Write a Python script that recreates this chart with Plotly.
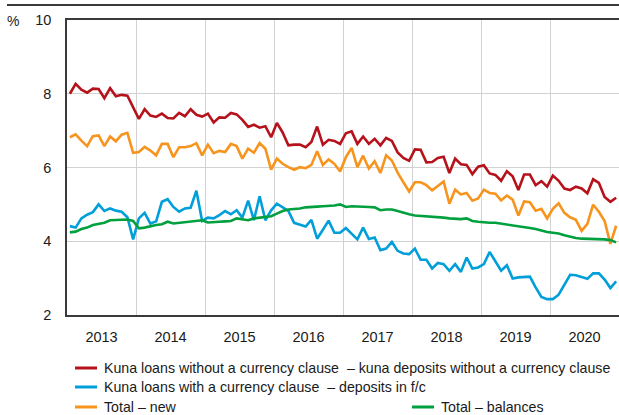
import plotly.graph_objects as go

# Monthly observations, January 2013 - December 2020 (96 months)
start_year = 2013
n_months = 96

kuna_no_clause = [
    8.00, 8.27, 8.11, 8.03, 8.14, 8.13, 7.88, 8.15, 7.93, 7.97, 7.95, 7.62,
    7.32, 7.58, 7.41, 7.37, 7.46, 7.34, 7.33, 7.48, 7.39, 7.58, 7.43, 7.38,
    7.46, 7.22, 7.36, 7.35, 7.48, 7.44, 7.29, 7.10, 7.16, 7.08, 7.12, 6.82,
    7.21, 6.95, 6.60, 6.62, 6.62, 6.55, 6.69, 7.11, 6.62, 6.75, 6.72, 6.64,
    6.93, 6.98, 6.64, 6.84, 6.64, 6.78, 6.60, 6.80, 6.72, 6.41, 6.26, 6.18,
    6.49, 6.48, 6.14, 6.15, 6.26, 6.29, 5.85, 6.24, 6.09, 6.07, 5.82, 6.02,
    6.06, 5.84, 5.80, 5.64, 5.90, 5.76, 5.39, 5.81, 5.81, 5.52, 5.63, 5.48,
    5.78, 5.64, 5.43, 5.39, 5.48, 5.43, 5.30, 5.68, 5.58, 5.20, 5.07, 5.18,
]

kuna_with_clause = [
    4.41, 4.37, 4.62, 4.72, 4.79, 5.00, 4.82, 4.89, 4.83, 4.80, 4.65, 4.05,
    4.62, 4.77, 4.48, 4.54, 5.07, 5.14, 4.93, 4.80, 4.89, 4.91, 5.37, 4.55,
    4.64, 4.62, 4.71, 4.82, 4.73, 4.84, 4.64, 5.10, 4.57, 5.22, 4.57, 4.84,
    5.02, 4.91, 4.82, 4.50, 4.46, 4.40, 4.58, 4.07, 4.31, 4.56, 4.23, 4.23,
    4.36, 4.20, 4.05, 4.37, 4.06, 4.10, 3.76, 3.80, 3.98, 3.74, 3.67, 3.65,
    3.80, 3.50, 3.50, 3.26, 3.41, 3.38, 3.20, 3.38, 3.17, 3.56, 3.26, 3.29,
    3.38, 3.71, 3.44, 3.20, 3.35, 2.99, 3.02, 3.03, 3.04, 2.75, 2.49, 2.43,
    2.43, 2.55, 2.84, 3.09, 3.08, 3.04, 2.98, 3.13, 3.13, 2.96, 2.73, 2.91,
]

total_new = [
    6.82, 6.90, 6.73, 6.58, 6.85, 6.87, 6.58, 6.84, 6.71, 6.89, 6.94, 6.40,
    6.42, 6.56, 6.46, 6.33, 6.64, 6.64, 6.28, 6.55, 6.55, 6.58, 6.66, 6.33,
    6.62, 6.39, 6.45, 6.42, 6.64, 6.58, 6.24, 6.51, 6.40, 6.66, 6.51, 5.94,
    6.24, 6.10, 6.01, 5.94, 6.01, 5.98, 6.07, 6.44, 6.07, 6.22, 6.10, 5.89,
    6.28, 6.53, 6.01, 6.32, 5.97, 6.17, 5.85, 6.33, 6.19, 5.86, 5.60, 5.35,
    5.60, 5.60, 5.52, 5.38, 5.50, 5.62, 5.02, 5.40, 5.27, 5.31, 5.10, 5.16,
    5.40, 5.31, 5.29, 5.11, 5.24, 5.13, 4.70, 5.08, 5.06, 4.83, 4.88, 4.62,
    4.88, 5.03, 4.77, 4.65, 4.58, 4.28, 4.47, 4.99, 4.80, 4.55, 3.93, 4.42,
]

total_balances = [
    4.24, 4.26, 4.33, 4.37, 4.44, 4.46, 4.50, 4.57, 4.57, 4.57, 4.59, 4.55,
    4.35, 4.37, 4.41, 4.44, 4.46, 4.53, 4.48, 4.50, 4.53, 4.55, 4.57, 4.57,
    4.51, 4.51, 4.53, 4.54, 4.55, 4.62, 4.60, 4.57, 4.62, 4.64, 4.64, 4.68,
    4.75, 4.82, 4.86, 4.87, 4.89, 4.92, 4.92, 4.94, 4.95, 4.95, 4.97, 5.00,
    4.93, 4.95, 4.95, 4.95, 4.93, 4.92, 4.84, 4.86, 4.86, 4.82, 4.77, 4.73,
    4.70, 4.69, 4.69, 4.66, 4.66, 4.64, 4.62, 4.60, 4.60, 4.62, 4.55, 4.53,
    4.51, 4.50, 4.50, 4.48, 4.46, 4.44, 4.41, 4.39, 4.36, 4.33, 4.28, 4.25,
    4.23, 4.21, 4.16, 4.12, 4.09, 4.07, 4.07, 4.06, 4.05, 4.05, 4.03, 3.97,
]

year_labels = ["2013", "2014", "2015", "2016", "2017", "2018", "2019", "2020"]
y_ticks = [2, 4, 6, 8, 10]

series_names = [
    "Kuna loans without a currency clause  \u2013 kuna deposits without a currency clause",
    "Kuna loans with a currency clause  \u2013 deposits in f/c",
    "Total \u2013 new",
    "Total \u2013 balances",
]
series_colors = ["#B5121B", "#009FDA", "#F7941D", "#00A03E"]

# mid-month positions on a decimal-year axis
x = [start_year + (m + 0.5) / 12 for m in range(n_months)]

FONT = "Liberation Sans, Arial, sans-serif"

fig = go.Figure()
for name, vals, col in zip(series_names,
                           [kuna_no_clause, kuna_with_clause, total_new, total_balances],
                           series_colors):
    fig.add_trace(go.Scatter(x=x, y=vals, mode="lines", name=name,
                             line=dict(color=col, width=2.6), showlegend=False))

# plot area in pixels: x 67..619, y 20..315
L, R, T, B = 67, 619, 20, 315
W, H = R - L, B - T


def px(xp):
    return (xp - L) / W


def py(yp):
    return (B - yp) / H


shapes = [
    # rule across the top of the figure
    dict(type="line", xref="paper", yref="paper", x0=px(7), x1=px(619),
         y0=py(5), y1=py(5), line=dict(color="#3a3a3a", width=2)),
]
annotations = [
    dict(text="%", xref="paper", yref="paper", x=px(5), y=py(21),
         xanchor="left", yanchor="middle", showarrow=False,
         font=dict(family=FONT, size=14, color="#222")),
]

# legend drawn beneath the axis
legend_rows = [
    (0, 75, 368),
    (1, 75, 387),
    (2, 75, 407),
    (3, 412, 407),
]
for idx, x0, yrow in legend_rows:
    shapes.append(dict(type="line", xref="paper", yref="paper",
                       x0=px(x0), x1=px(x0 + 22), y0=py(yrow), y1=py(yrow),
                       line=dict(color=series_colors[idx], width=3)))
    annotations.append(dict(text=series_names[idx], xref="paper", yref="paper",
                            x=px(x0 + 27), y=py(yrow), xanchor="left",
                            yanchor="middle", showarrow=False,
                            font=dict(family=FONT, size=14.2, color="#1a1a1a")))

fig.update_layout(
    width=619, height=415,
    margin=dict(l=L, r=619 - R, t=T, b=415 - B),
    paper_bgcolor="white", plot_bgcolor="white",
    font=dict(family=FONT, size=14, color="#1a1a1a"),
    shapes=shapes, annotations=annotations,
    xaxis=dict(
        range=[2013, 2021],
        tickvals=[start_year + i + 0.5 for i in range(len(year_labels))],
        ticktext=year_labels,
        ticks="", showgrid=False,
        minor=dict(tickvals=list(range(2014, 2021)), showgrid=True,
                   gridcolor="#d2d2d2", gridwidth=1, ticks=""),
        showline=True, mirror=True, linecolor="#3a3a3a", linewidth=1.5,
        tickfont=dict(family=FONT, size=14.5),
        ticklabelstandoff=8,
        zeroline=False,
    ),
    yaxis=dict(
        range=[2, 10], tickvals=y_ticks, ticks="",
        showgrid=True, gridcolor="#d2d2d2", gridwidth=1,
        showline=True, linecolor="#3a3a3a", linewidth=1.5,
        tickfont=dict(family=FONT, size=14.5),
        ticklabelstandoff=11,
        zeroline=False,
    ),
)

fig.write_html("out.html")
